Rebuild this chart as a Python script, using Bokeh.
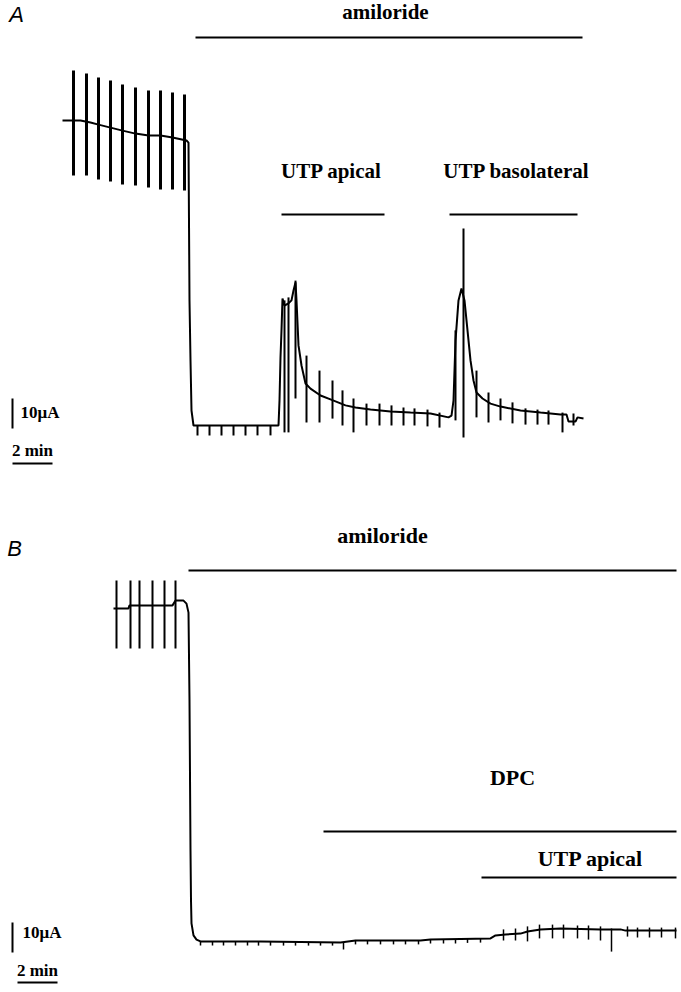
from bokeh.plotting import figure
from bokeh.layouts import column
from bokeh.models import Range1d
from bokeh.core.properties import value
from bokeh.embed import file_html
from bokeh.resources import INLINE

# ---------------- Panel A data (time in min, current in uA) ----------------
A_TRACE_T = [0.0, 0.9, 1.4, 1.8, 2.4, 3.0, 3.65, 4.3, 4.9, 5.5, 6.2, 6.3,
             6.35, 6.4, 6.45, 6.55, 10.8,
             10.85, 10.9, 10.95, 11.0, 11.1, 11.3, 11.45, 11.55, 11.65, 11.7, 11.8,
             11.95, 12.15, 12.4, 12.9, 13.4, 14.15, 14.65, 15.4, 16.4, 17.4, 18.4, 19.3,
             19.45, 19.55, 19.65, 19.8, 19.95, 20.1, 20.25, 20.4, 20.55, 20.7, 21.0,
             21.4, 21.9, 22.9, 23.9, 24.9, 25.2, 25.3, 25.65, 25.75, 26.05]
A_TRACE_I = [105.7, 105.7, 105.0, 104.3, 103.3, 102.3, 101.3, 100.7, 100.7, 100.0, 99.0, 98.3,
             45.7, 25.7, 9.0, 4.0, 4.0,
             12.3, 26.7, 35.7, 46.3, 44.0, 44.7, 45.7, 49.0, 51.7, 45.7, 30.7,
             24.0, 18.0, 16.3, 14.0, 12.7, 10.7, 10.0, 9.3, 8.7, 8.3, 8.0, 6.7,
             7.3, 12.3, 32.3, 45.7, 49.7, 45.7, 35.7, 25.7, 19.0, 15.0, 13.0,
             11.3, 10.3, 9.0, 8.3, 7.7, 7.7, 5.3, 5.3, 6.7, 6.3]

# voltage-clamp pulses before amiloride
A_PRE_PULSE_T = [0.55, 1.2, 1.8, 2.4, 3.0, 3.65, 4.3, 4.9, 5.5, 6.1]
A_PRE_PULSE_TOP = [122.3, 121.3, 120.0, 119.0, 117.7, 116.7, 115.7, 115.7, 115.0, 114.3]
A_PRE_PULSE_BOT = [87.3, 87.3, 86.0, 85.3, 84.3, 84.0, 83.3, 82.7, 82.7, 82.3]

# pulses after amiloride
A_PULSE_T = [6.75, 7.35, 7.95, 8.55, 9.15, 9.75, 10.4,
             11.1, 11.3, 11.65, 12.2, 12.85, 13.5, 14.0, 14.55, 15.2, 15.85, 16.45,
             17.05, 17.6, 18.25, 18.85,
             19.65, 20.05, 20.7, 21.3, 21.9, 22.5, 23.15, 23.75, 24.3, 25.0, 25.55]
A_PULSE_TOP = [4.0, 4.0, 4.0, 4.0, 4.0, 4.0, 4.0,
               45.7, 46.7, 52.3, 27.3, 22.3, 19.0, 15.7, 13.0, 11.3, 11.3, 10.7,
               10.0, 9.7, 9.3, 8.3,
               35.7, 69.7, 22.3, 15.0, 13.0, 11.7, 9.7, 9.3, 9.0, 8.3, 8.0]
A_PULSE_BOT = [0.7, 0.7, 0.7, 0.7, 0.7, 0.7, 0.7,
               1.7, 1.7, 13.0, 5.0, 5.0, 6.3, 4.0, 1.7, 4.0, 4.0, 4.0,
               4.0, 4.0, 3.7, 3.3,
               5.7, 0.0, 6.7, 5.0, 5.7, 4.7, 4.3, 4.3, 4.3, 1.7, 4.0]

A_AMILORIDE = (6.65, 26.0)
A_UTP_APICAL = (10.95, 16.1)
A_UTP_BASO = (19.35, 25.75)

# ---------------- Panel B data ----------------
B_TRACE_T = [0.0, 0.75, 0.8, 2.95, 3.1, 3.5, 3.65, 3.75,
             3.8, 3.85, 3.875, 3.9, 4.0, 4.15, 4.35,
             7.35, 11.35, 12.1, 15.35, 15.85, 18.85, 19.1, 19.6, 20.35, 20.7,
             21.35, 22.35, 24.35, 25.35, 25.6, 28.15]
B_TRACE_I = [114.7, 114.7, 115.7, 115.7, 117.3, 117.3, 116.3, 113.3,
             84.0, 34.0, 17.3, 9.7, 5.7, 4.3, 3.7,
             3.7, 3.3, 4.0, 4.0, 4.3, 4.7, 5.7, 6.0, 6.3, 7.0,
             7.7, 8.0, 7.7, 7.7, 7.3, 7.3]

B_PRE_PULSE_T = [0.15, 0.85, 1.3, 1.95, 2.55, 3.1]
B_PRE_PULSE_TOP = [124.0, 124.0, 124.0, 124.0, 124.0, 124.0]
B_PRE_PULSE_BOT = [101.3, 101.3, 101.3, 101.3, 101.3, 101.3]

B_PULSE_T = [4.35, 4.95, 5.5, 6.1, 6.7, 7.25, 7.85, 8.5, 9.1, 9.75, 10.35, 10.95,
             11.5, 12.1, 12.7, 13.35, 14.0, 14.6, 15.25, 15.85, 16.5, 17.1, 17.7, 18.35,
             19.5, 20.1, 20.7, 21.3, 21.95, 22.5, 23.2, 23.75, 24.35, 24.9,
             25.7, 26.2, 26.8, 27.4, 28.1]
B_PULSE_TOP = [3.7, 3.7, 3.7, 3.7, 3.7, 3.7, 3.7, 3.7, 3.6, 3.6, 3.5, 3.4,
               3.3, 4.0, 4.0, 4.0, 4.0, 4.0, 4.0, 4.3, 4.4, 4.5, 4.6, 4.7,
               7.7, 8.0, 8.7, 9.3, 9.3, 9.3, 9.0, 9.0, 8.7, 8.0,
               8.7, 8.3, 8.3, 8.3, 8.3]
B_PULSE_BOT = [2.3, 2.3, 2.3, 2.3, 2.3, 2.3, 2.3, 2.3, 2.3, 2.3, 2.3, 2.3,
               1.0, 2.7, 2.7, 2.7, 2.7, 2.7, 2.7, 3.0, 3.0, 3.0, 3.2, 3.3,
               4.0, 4.0, 3.7, 4.7, 4.7, 4.7, 4.7, 4.3, 4.0, 0.3,
               5.3, 5.0, 5.0, 5.0, 4.7]

B_AMILORIDE = (3.75, 28.15)
B_DPC = (10.5, 28.15)
B_UTP_APICAL = (18.4, 28.15)

SCALE_UA = 10   # uA
SCALE_MIN = 2   # min

SERIF = value("Liberation Serif")
SANS = value("Liberation Sans")


def base_fig(xr, yr, h):
    p = figure(width=681, height=h, x_range=Range1d(*xr), y_range=Range1d(*yr),
               output_backend="svg", toolbar_location=None,
               x_axis_location=None, y_axis_location=None, min_border=0)
    p.grid.visible = False
    p.outline_line_color = None
    p.background_fill_color = "white"
    return p


def label(p, x, y, txt, size="21px", align="center", font=SERIF, style="bold"):
    p.text(x=[x], y=[y], text=[txt], text_font=font, text_font_style=style,
           text_font_size=size, text_align=align, text_baseline="middle", text_color="black")


def bar(p, span, y, w=2):
    p.segment(x0=[span[0]], x1=[span[1]], y0=[y], y1=[y], line_color="black", line_width=w)


# ---------------- Figure A ----------------
pa = base_fig((-3.1, 30.95), (-19.67, 145.67), 496)
pa.segment(x0=A_PRE_PULSE_T, x1=A_PRE_PULSE_T, y0=A_PRE_PULSE_BOT, y1=A_PRE_PULSE_TOP,
           line_color="black", line_width=3)
pa.segment(x0=A_PULSE_T, x1=A_PULSE_T, y0=A_PULSE_BOT, y1=A_PULSE_TOP,
           line_color="black", line_width=2)
pa.line(A_TRACE_T, A_TRACE_I, line_color="black", line_width=2)

bar(pa, A_AMILORIDE, 133.3)
bar(pa, A_UTP_APICAL, 74.3)
bar(pa, A_UTP_BASO, 74.3)
label(pa, 16.15, 141.7, "amiloride")
label(pa, 13.45, 89.0, "UTP apical")
label(pa, 22.7, 89.0, "UTP basolateral")
label(pa, -2.3, 141.0, "A", size="22px", font=SANS, style="italic")

# scale bars
pa.segment(x0=[-2.5], x1=[-2.5], y0=[3.0], y1=[3.0 + SCALE_UA], line_color="black", line_width=2)
pa.segment(x0=[-2.5], x1=[-2.5 + SCALE_MIN], y0=[-8.7], y1=[-8.7], line_color="black", line_width=2)
label(pa, -2.1, 8.3, f"{SCALE_UA}μA", size="17px", align="left")
label(pa, -1.5, -4.5, f"{SCALE_MIN} min", size="17px")

# ---------------- Figure B ----------------
pb = base_fig((-5.65, 28.4), (-13.0, 152.0), 495)
pb.segment(x0=B_PRE_PULSE_T, x1=B_PRE_PULSE_T, y0=B_PRE_PULSE_BOT, y1=B_PRE_PULSE_TOP,
           line_color="black", line_width=2)
pb.segment(x0=B_PULSE_T, x1=B_PULSE_T, y0=B_PULSE_BOT, y1=B_PULSE_TOP,
           line_color="black", line_width=1.5)
pb.line(B_TRACE_T, B_TRACE_I, line_color="black", line_width=2)

bar(pb, B_AMILORIDE, 127.3)
bar(pb, B_DPC, 40.3)
bar(pb, B_UTP_APICAL, 25.0)
label(pb, 13.45, 139.0, "amiloride", size="22px")
label(pb, 19.95, 58.3, "DPC", size="22px")
label(pb, 23.85, 31.3, "UTP apical", size="22px")
label(pb, -4.95, 134.7, "B", size="22px", font=SANS, style="italic")

pb.segment(x0=[-5.05], x1=[-5.05], y0=[0.0], y1=[SCALE_UA], line_color="black", line_width=2)
pb.segment(x0=[-4.8], x1=[-4.8 + SCALE_MIN], y0=[-10.0], y1=[-10.0], line_color="black", line_width=2)
label(pb, -4.55, 6.7, f"{SCALE_UA}μA", size="17px", align="left")
label(pb, -3.8, -6.0, f"{SCALE_MIN} min", size="17px")

layout = column(pa, pb, spacing=0)
open("out.html", "w").write(file_html(layout, INLINE))
